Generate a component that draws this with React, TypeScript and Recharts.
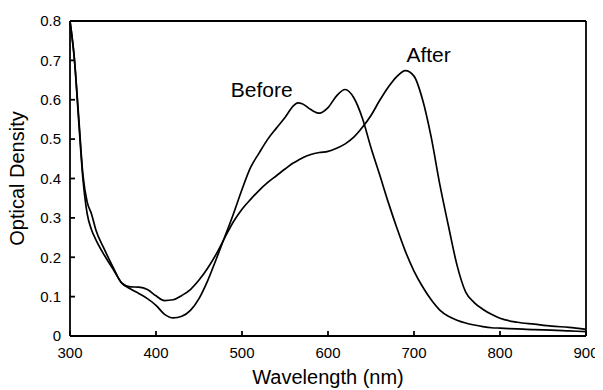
import {
  Label,
  Line,
  LineChart,
  ReferenceDot,
  ReferenceLine,
  XAxis,
  YAxis,
} from "recharts";

const wavelengths = [
  300, 305, 310, 315, 320, 325, 330, 340, 350, 360, 370, 380, 390, 400, 410,
  420, 430, 440, 450, 460, 470, 480, 490, 500, 510, 520, 530, 540, 550, 560,
  565, 570, 580, 590, 600, 610, 620, 630, 640, 650, 660, 670, 680, 690, 700,
  710, 720, 730, 740, 750, 760, 770, 780, 790, 800, 820, 840, 860, 880, 900,
];

const before = [
  0.8, 0.706, 0.55, 0.4, 0.31, 0.27, 0.245, 0.205, 0.17, 0.135, 0.12, 0.108,
  0.095, 0.078, 0.055, 0.046, 0.05, 0.065, 0.095, 0.14, 0.195, 0.252, 0.31,
  0.372, 0.428, 0.465, 0.5, 0.528, 0.555, 0.585, 0.592, 0.59, 0.575, 0.566,
  0.58, 0.61, 0.626, 0.605, 0.553, 0.478, 0.41, 0.34, 0.275, 0.215, 0.165,
  0.125, 0.092, 0.066, 0.05, 0.04, 0.033, 0.028, 0.024, 0.021, 0.02, 0.018,
  0.016, 0.015, 0.013, 0.011,
];

const after = [
  0.8, 0.706, 0.56, 0.41, 0.34, 0.31, 0.27, 0.22, 0.175, 0.135, 0.125, 0.124,
  0.118, 0.102, 0.09, 0.092, 0.103, 0.118, 0.142, 0.172, 0.208, 0.25, 0.29,
  0.322, 0.347, 0.37, 0.39, 0.407, 0.424, 0.44, 0.446, 0.452, 0.461, 0.466,
  0.469, 0.477, 0.488, 0.505, 0.53, 0.56, 0.598, 0.632, 0.659, 0.674, 0.66,
  0.6, 0.505, 0.385, 0.28, 0.18, 0.112, 0.085, 0.068, 0.055, 0.045, 0.035,
  0.03, 0.025, 0.022, 0.017,
];

const xTicks = [300, 400, 500, 600, 700, 800, 900];
const yTicks = [0, 0.1, 0.2, 0.3, 0.4, 0.5, 0.6, 0.7, 0.8];

const data = wavelengths.map((w, i) => ({
  w,
  before: before[i],
  after: after[i],
}));

const font = "Arial, 'Liberation Sans', sans-serif";

export default function App() {
  return (
    <div style={{ margin: "-8px -8px 0 -8px", fontFamily: font }}>
      <LineChart
        width={603}
        height={390}
        data={data}
        margin={{ top: 21, right: 17, left: 0, bottom: 0 }}
      >
        <XAxis
          dataKey="w"
          type="number"
          domain={[300, 900]}
          ticks={xTicks}
          interval={0}
          height={54}
          stroke="#000"
          strokeWidth={1.8}
          tickSize={-5}
          tickMargin={16}
          tick={{ fill: "#000", fontSize: 15, fontFamily: font }}
        >
          <Label
            value="Wavelength (nm)"
            position="center"
            dx={0}
            dy={14}
            fill="#000"
            fontSize={20}
            fontFamily={font}
          />
        </XAxis>
        <YAxis
          type="number"
          domain={[0, 0.8]}
          ticks={yTicks}
          interval={0}
          width={70}
          stroke="#000"
          strokeWidth={1.8}
          tickSize={-5}
          tickMargin={14}
          tickFormatter={(v: number) => (v === 0 ? "0" : v.toFixed(1))}
          tick={{ fill: "#000", fontSize: 15, fontFamily: font }}
        >
          <Label
            value="Optical Density"
            position="center"
            angle={-90}
            dx={-18}
            fill="#000"
            fontSize={20}
            fontFamily={font}
          />
        </YAxis>
        <ReferenceLine y={0.8} stroke="#000" strokeWidth={1.8} />
        <ReferenceLine x={900} stroke="#000" strokeWidth={1.8} />
        <Line
          type="monotone"
          dataKey="before"
          stroke="#000"
          strokeWidth={1.7}
          dot={false}
          isAnimationActive={false}
        />
        <Line
          type="monotone"
          dataKey="after"
          stroke="#000"
          strokeWidth={1.7}
          dot={false}
          isAnimationActive={false}
        />
        <ReferenceDot x={523} y={0.626} r={0} stroke="none">
          <Label
            value="Before"
            position="center"
            fill="#000"
            fontSize={21}
            fontFamily={font}
          />
        </ReferenceDot>
        <ReferenceDot x={717} y={0.714} r={0} stroke="none">
          <Label
            value="After"
            position="center"
            fill="#000"
            fontSize={21}
            fontFamily={font}
          />
        </ReferenceDot>
      </LineChart>
    </div>
  );
}
